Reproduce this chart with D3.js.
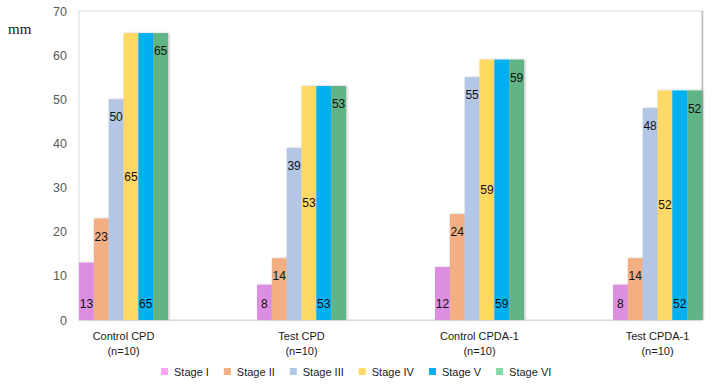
<!DOCTYPE html>
<html>
<head>
<meta charset="utf-8">
<script src="https://cdn.jsdelivr.net/npm/d3@7"></script>
<style>
  body { margin: 0; background: #fff; }
  svg { display: block; }
</style>
</head>
<body>
<div id="chart"></div>
<script>
// data
const groups = ["Control CPD", "Test CPD", "Control CPDA-1", "Test CPDA-1"];
const groupSub = ["(n=10)", "(n=10)", "(n=10)", "(n=10)"];
const stages = ["Stage I", "Stage II", "Stage III", "Stage IV", "Stage V", "Stage VI"];
const stageI   = [13, 8, 12, 8];
const stageII  = [23, 14, 24, 14];
const stageIII = [50, 39, 55, 48];
const stageIV  = [65, 53, 59, 52];
const stageV   = [65, 53, 59, 52];
const stageVI  = [65, 53, 59, 52];
const yTicks = [0, 10, 20, 30, 40, 50, 60, 70];

const series = [stageI, stageII, stageIII, stageIV, stageV, stageVI];
const barColors = ["#dc8ee0", "#f3ae84", "#b3c6e6", "#fed966", "#00b0f0", "#60b486"];
const legendColors = ["#fba4f6", "#f4b183", "#b4c7e7", "#ffd966", "#00b0f0", "#86d9a6"];
// where excel put each series' data label
const labelPos = ["base", "end", "end", "center", "base", "end"];

const width = 714, height = 389;
const margin = {top: 11, right: 12, bottom: 69, left: 79};

const svg = d3.select("#chart").append("svg")
    .attr("width", width)
    .attr("height", height);

const defs = svg.append("defs");
const shadow = defs.append("filter").attr("id", "shadow")
    .attr("x", "-20%").attr("y", "-5%").attr("width", "150%").attr("height", "110%");
shadow.append("feDropShadow")
    .attr("dx", 1.2).attr("dy", 0).attr("stdDeviation", 0.8)
    .attr("flood-color", "#000").attr("flood-opacity", 0.25);

const x0 = d3.scaleBand()
    .domain(groups)
    .range([margin.left, width - margin.right])
    .paddingInner(0.5)
    .paddingOuter(0);

const x1 = d3.scaleBand()
    .domain(d3.range(stages.length))
    .range([0, x0.bandwidth()]);

const y = d3.scaleLinear()
    .domain([0, 70])
    .range([height - margin.bottom, margin.top]);

// plot frame
svg.append("rect")
    .attr("x", margin.left)
    .attr("y", margin.top)
    .attr("width", width - margin.right - margin.left)
    .attr("height", height - margin.bottom - margin.top)
    .attr("fill", "none")
    .attr("stroke", "#d9d9d9")
    .attr("stroke-width", 1);
svg.append("line")
    .attr("x1", width - margin.right + 0.5).attr("x2", width - margin.right + 0.5)
    .attr("y1", margin.top).attr("y2", height - margin.bottom)
    .attr("stroke", "#bdbdbd").attr("stroke-width", 1.5);

// y axis
const yAxis = svg.append("g")
    .attr("transform", `translate(${margin.left},0)`)
    .call(d3.axisLeft(y).tickValues(yTicks).tickSize(0).tickPadding(12));
yAxis.select(".domain").remove();
yAxis.selectAll("text")
    .attr("fill", "#595959")
    .style("font-family", "'Liberation Sans', Arial, sans-serif")
    .style("font-size", "12.5px");

svg.append("text")
    .attr("x", 8)
    .attr("y", 34)
    .attr("fill", "#151533")
    .style("font-family", "'Liberation Serif', 'Times New Roman', serif")
    .style("font-size", "15px")
    .text("mm");

// bars
const groupG = svg.append("g").selectAll("g")
    .data(groups)
    .join("g")
    .attr("transform", d => `translate(${x0(d)},0)`);

groupG.selectAll("rect")
    .data((g, gi) => series.map((s, si) => ({si, v: s[gi]})))
    .join("rect")
    .attr("x", d => x1(d.si))
    .attr("y", d => y(d.v))
    .attr("width", x1.bandwidth())
    .attr("height", d => y(0) - y(d.v))
    .attr("fill", d => barColors[d.si])
    .attr("filter", "url(#shadow)");

groupG.selectAll("text.lbl")
    .data((g, gi) => series.map((s, si) => ({si, v: s[gi]})))
    .join("text")
    .attr("class", "lbl")
    .attr("x", d => x1(d.si) + x1.bandwidth() / 2)
    .attr("y", d => {
        const p = labelPos[d.si];
        if (p === "base") return y(0) - 16;
        if (p === "center") return (y(0) + y(d.v)) / 2;
        return y(d.v) + 18;
    })
    .attr("dy", "0.35em")
    .attr("text-anchor", "middle")
    .attr("fill", "#111")
    .style("font-family", "'Liberation Sans', Arial, sans-serif")
    .style("font-size", "12px")
    .text(d => d.v);

// x axis
svg.append("line")
    .attr("x1", margin.left).attr("x2", width - margin.right)
    .attr("y1", y(0) + 0.5).attr("y2", y(0) + 0.5)
    .attr("stroke", "#d9d9d9");

const xLab = svg.append("g").selectAll("text")
    .data(groups)
    .join("text")
    .attr("x", d => x0(d) + x0.bandwidth() / 2)
    .attr("y", 340)
    .attr("text-anchor", "middle")
    .attr("fill", "#1a1a1a")
    .style("font-family", "'Liberation Sans', Arial, sans-serif")
    .style("font-size", "11px");
xLab.append("tspan").text(d => d);
xLab.append("tspan")
    .attr("x", d => x0(d) + x0.bandwidth() / 2)
    .attr("dy", 15)
    .text((d, i) => groupSub[i]);

// legend
const legend = svg.append("g").attr("transform", "translate(161,372)");
let lx = 0;
stages.forEach((s, i) => {
    const item = legend.append("g").attr("transform", `translate(${lx},0)`);
    item.append("rect")
        .attr("x", 0).attr("y", -4)
        .attr("width", 7).attr("height", 7)
        .attr("fill", legendColors[i]);
    const t = item.append("text")
        .attr("x", 13)
        .attr("y", 0)
        .attr("dy", "0.35em")
        .attr("fill", "#1a1a1a")
        .style("font-family", "'Liberation Sans', Arial, sans-serif")
        .style("font-size", "11px")
        .text(s);
    lx += 13 + t.node().getComputedTextLength() + 15;
});
</script>
</body>
</html>
